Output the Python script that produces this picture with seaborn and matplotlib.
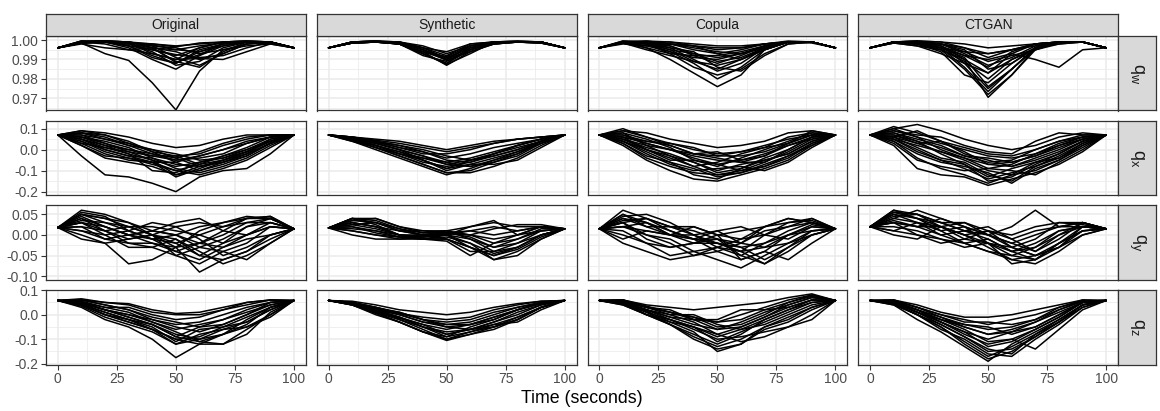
import numpy as np
import pandas as pd
import matplotlib
matplotlib.use("Agg")
import matplotlib.pyplot as plt
import seaborn as sns

# ---------------- data ----------------
methods = ["Original", "Synthetic", "Copula", "CTGAN"]
components = ["qw", "qx", "qy", "qz"]
component_labels = [r"$\mathrm{q}_\mathrm{w}$", r"$\mathrm{q}_\mathrm{x}$",
                    r"$\mathrm{q}_\mathrm{y}$", r"$\mathrm{q}_\mathrm{z}$"]
times = [0, 10, 20, 30, 40, 50, 60, 70, 80, 90, 100]

# q_w
original_qw = [
    [.996, .9985, .993, .9895, .978, .964, .984, .995, .997, .998, .996],
    [.996, .999, .9995, .997, .992, .988, .994, .998, .999, .999, .996],
    [.996, .9995, .999, .996, .990, .985, .992, .997, .999, .9985, .996],
    [.996, .999, .998, .995, .993, .990, .9905, .990, .994, .998, .996],
    [.996, .9985, .999, .998, .995, .992, .996, .999, .9995, .999, .996],
    [.996, .999, .9995, .999, .997, .996, .993, .995, .998, .999, .996],
    [.996, .9985, .9995, .998, .994, .987, .989, .996, .999, .999, .996],
    [.996, .999, .999, .999, .998, .997, .998, .999, .9995, .999, .996],
    [.996, .998, .996, .995, .996, .994, .990, .993, .998, .999, .996],
    [.996, .9995, .9995, .999, .996, .989, .986, .994, .999, .999, .996],
    [.996, .999, .9995, .9985, .9975, .995, .997, .9985, .999, .9985, .996],
    [.996, .9985, .999, .997, .991, .988, .995, .998, .999, .999, .996],
    [.996, .999, .9995, .999, .997, .991, .987, .993, .998, .999, .996],
    [.996, .9985, .999, .998, .996, .995, .994, .997, .999, .999, .996],
    [.996, .999, .9995, .9985, .993, .990, .996, .999, .9995, .999, .996],
    [.996, .999, .999, .997, .995, .9925, .991, .992, .996, .999, .996],
    [.996, .9995, .999, .9985, .998, .9965, .9985, .999, .999, .9985, .996],
    [.996, .9985, .9995, .999, .996, .9885, .9925, .998, .999, .999, .996],
]
synthetic_qw = [
    [.996, .9985, .999, .998, .993, .988, .996, .999, .999, .9985, .996],
    [.996, .999, .9995, .999, .995, .990, .997, .999, .999, .999, .996],
    [.996, .9985, .999, .998, .994, .987, .994, .998, .999, .999, .996],
    [.996, .999, .999, .999, .996, .992, .998, .999, .9995, .999, .996],
    [.996, .9985, .9995, .998, .992, .989, .995, .999, .999, .9985, .996],
    [.996, .999, .999, .9985, .995, .991, .996, .998, .999, .999, .996],
    [.996, .9985, .999, .998, .993, .9875, .993, .999, .999, .999, .996],
    [.996, .999, .9995, .999, .997, .993, .997, .999, .999, .9985, .996],
    [.996, .9985, .999, .998, .994, .990, .995, .998, .999, .999, .996],
    [.996, .999, .9995, .9985, .995, .9895, .994, .998, .999, .999, .996],
    [.996, .9985, .999, .998, .994, .9915, .997, .999, .999, .9985, .996],
    [.996, .999, .999, .999, .996, .9905, .996, .999, .9995, .999, .996],
    [.996, .999, .9995, .998, .993, .988, .995, .999, .999, .999, .996],
    [.996, .9985, .999, .9985, .996, .994, .998, .999, .999, .999, .996],
]
copula_qw = [
    [.996, .999, .996, .990, .983, .976, .982, .995, .999, .999, .996],
    [.996, .999, .998, .993, .986, .982, .985, .993, .998, .999, .996],
    [.996, .9985, .995, .992, .989, .987, .990, .995, .999, .999, .996],
    [.996, .999, .999, .996, .990, .984, .988, .996, .999, .999, .996],
    [.996, .999, .998, .995, .993, .991, .993, .997, .999, .999, .996],
    [.996, .999, .9995, .998, .995, .993, .995, .998, .999, .999, .996],
    [.996, .999, .999, .997, .992, .988, .992, .997, .999, .999, .996],
    [.996, .998, .997, .998, .997, .995, .996, .998, .9995, .999, .996],
    [.996, .999, .997, .994, .991, .990, .993, .996, .999, .999, .996],
    [.996, .9995, .999, .999, .998, .997, .997, .998, .999, .9985, .996],
    [.996, .999, .998, .996, .994, .986, .984, .992, .998, .999, .996],
    [.996, .999, .9995, .999, .997, .993, .990, .995, .999, .999, .996],
    [.996, .999, .998, .994, .988, .980, .986, .995, .999, .999, .996],
    [.996, .999, .9985, .997, .993, .989, .991, .996, .999, .999, .996],
    [.996, .9985, .996, .993, .992, .992, .994, .997, .999, .999, .996],
    [.996, .999, .999, .998, .996, .994, .993, .996, .999, .999, .996],
    [.996, .999, .9985, .995, .989, .985, .990, .996, .999, .999, .996],
    [.996, .9995, .999, .998, .997, .996, .996, .998, .999, .999, .996],
]
ctgan_qw = [
    [.996, .999, .998, .995, .985, .972, .982, .995, .999, .999, .996],
    [.996, .999, .999, .997, .988, .975, .985, .996, .999, .999, .996],
    [.996, .999, .998, .994, .982, .978, .988, .996, .999, .999, .996],
    [.996, .9985, .997, .995, .990, .983, .990, .995, .999, .999, .996],
    [.996, .999, .999, .998, .993, .987, .991, .997, .999, .999, .996],
    [.996, .999, .998, .996, .992, .990, .993, .990, .986, .995, .996],
    [.996, .999, .9995, .999, .996, .993, .995, .998, .999, .999, .996],
    [.996, .999, .999, .997, .990, .9705, .982, .996, .998, .999, .996],
    [.996, .999, .998, .996, .994, .993, .995, .997, .999, .999, .996],
    [.996, .999, .999, .998, .995, .985, .988, .996, .999, .999, .996],
    [.996, .9985, .997, .993, .988, .983, .993, .998, .999, .999, .996],
    [.996, .999, .9995, .999, .998, .996, .997, .998, .999, .999, .996],
    [.996, .999, .999, .996, .986, .9735, .985, .996, .999, .999, .996],
    [.996, .999, .998, .995, .989, .980, .990, .996, .999, .999, .996],
    [.996, .9985, .999, .997, .992, .986, .994, .998, .999, .999, .996],
    [.996, .999, .999, .998, .994, .989, .992, .995, .998, .999, .996],
    [.996, .999, .9985, .996, .991, .976, .985, .996, .999, .999, .996],
    [.996, .999, .9995, .998, .996, .991, .995, .998, .999, .999, .996],
]

# q_x
original_qx = [
    [.07, -.03, -.12, -.13, -.16, -.20, -.13, -.10, -.09, -.02, .07],
    [.07, .09, .08, .06, .03, .01, .02, .05, .07, .07, .07],
    [.07, .06, .03, .00, -.03, -.05, -.03, .00, .04, .06, .07],
    [.07, .02, -.04, -.06, -.08, -.12, -.10, -.07, -.03, .03, .07],
    [.07, .05, .02, -.02, -.05, -.08, -.06, -.03, .00, .04, .07],
    [.07, .08, .06, .02, -.02, -.04, -.01, .03, .06, .07, .07],
    [.07, .04, -.01, -.04, -.07, -.10, -.12, -.09, -.05, .01, .07],
    [.07, .07, .05, .03, .00, -.02, -.05, -.04, -.01, .04, .07],
    [.07, .03, -.02, -.05, -.06, -.13, -.09, -.05, -.01, .04, .07],
    [.07, .06, .04, .01, -.04, -.07, -.08, -.06, -.02, .05, .07],
    [.07, .08, .07, .04, -.01, -.06, -.03, .00, .03, .06, .07],
    [.07, .05, .00, -.03, -.04, -.09, -.11, -.08, -.04, .02, .07],
    [.07, .07, .03, -.01, -.03, -.03, -.07, -.05, -.02, .03, .07],
    [.07, .03, .01, -.02, -.10, -.11, -.06, -.04, .00, .05, .07],
    [.07, .09, .07, .03, -.01, -.03, -.02, .02, .05, .07, .07],
    [.07, .04, .00, -.03, -.06, -.06, -.10, -.06, -.02, .03, .07],
    [.07, .06, .02, .00, -.02, -.05, -.04, -.02, .03, .06, .07],
    [.07, .02, -.03, -.04, -.06, -.10, -.07, -.03, .01, .06, .07],
    [.07, .08, .05, .02, .00, -.04, -.08, -.05, -.01, .04, .07],
    [.07, .05, .01, -.01, -.05, -.12, -.08, -.06, -.03, .03, .07],
]
synthetic_qx = [
    [.07, .05, .01, -.03, -.07, -.11, -.11, -.08, -.04, .02, .07],
    [.07, .06, .05, .04, .02, .00, .02, .04, .05, .06, .07],
    [.07, .05, .03, .00, -.03, -.06, -.04, -.01, .02, .05, .07],
    [.07, .04, .00, -.04, -.08, -.12, -.09, -.05, -.02, .03, .07],
    [.07, .055, .04, .02, -.01, -.04, -.02, .01, .03, .05, .07],
    [.07, .05, .02, -.01, -.05, -.09, -.07, -.07, -.05, .01, .07],
    [.07, .06, .04, .02, .00, -.03, -.05, -.03, .00, .04, .07],
    [.07, .05, .02, -.02, -.06, -.08, -.06, -.03, .00, .04, .07],
    [.07, .045, .01, -.02, -.04, -.06, -.08, -.05, -.01, .03, .07],
    [.07, .06, .04, .01, -.02, -.02, .00, .03, .05, .06, .07],
    [.07, .05, .03, .00, -.05, -.10, -.07, -.04, -.01, .04, .07],
    [.07, .055, .035, .01, -.01, -.05, -.06, -.02, .02, .05, .07],
    [.07, .05, .02, -.01, -.04, -.07, -.05, -.02, .01, .04, .07],
    [.07, .04, .01, -.03, -.07, -.11, -.10, -.06, -.03, .03, .07],
    [.07, .06, .045, .03, .01, -.01, .01, .03, .05, .06, .07],
    [.07, .05, .02, -.02, -.05, -.09, -.05, -.02, .02, .05, .07],
    [.07, .055, .03, .00, -.03, -.07, -.08, -.06, -.02, .04, .07],
]
copula_qx = [
    [.07, .09, .08, .05, .03, .01, .02, .04, .08, .09, .07],
    [.07, .05, .00, -.04, -.08, -.12, -.11, -.08, -.04, .03, .07],
    [.07, .06, .03, .00, -.03, -.05, -.06, -.03, .02, .06, .07],
    [.07, .02, -.05, -.10, -.14, -.15, -.12, -.09, -.05, .02, .07],
    [.07, .08, .05, .01, -.05, -.08, -.04, .00, .04, .08, .07],
    [.07, .04, -.02, -.07, -.10, -.09, -.08, -.10, -.06, .01, .07],
    [.07, .07, .04, .03, .01, -.03, -.01, .02, .05, .07, .07],
    [.07, .03, -.03, -.06, -.12, -.14, -.09, -.05, -.02, .04, .07],
    [.07, .10, .06, .02, -.02, -.01, -.05, -.03, .03, .09, .07],
    [.07, .05, .01, -.02, -.06, -.10, -.07, -.05, -.02, .04, .07],
    [.07, .06, .04, .02, -.02, -.04, -.06, -.06, .00, .06, .07],
    [.07, .04, .00, -.05, -.05, -.07, -.10, -.06, -.01, .05, .07],
    [.07, .08, .02, -.03, -.08, -.06, -.02, .01, .03, .07, .07],
    [.07, .09, .06, .03, .00, -.02, -.01, .01, .06, .08, .07],
    [.07, .04, -.01, -.06, -.09, -.13, -.11, -.07, -.03, .03, .07],
    [.07, .07, .03, .00, -.04, -.07, -.05, -.02, .02, .05, .07],
    [.07, .06, .00, -.03, -.06, -.11, -.09, -.04, .00, .06, .07],
    [.07, .05, .02, .00, -.02, -.03, -.03, -.01, .03, .07, .07],
    [.07, .03, -.04, -.08, -.11, -.12, -.10, -.08, -.03, .02, .07],
]
ctgan_qx = [
    [.07, .10, .12, .09, .05, .02, .00, .02, .06, .08, .07],
    [.07, .02, -.09, -.12, -.13, -.17, -.14, -.11, -.07, -.01, .07],
    [.07, .08, .05, .02, -.03, -.06, -.05, .00, .04, .06, .07],
    [.07, .05, .00, -.05, -.09, -.14, -.11, -.08, -.03, .03, .07],
    [.07, .06, .09, .04, -.02, -.05, -.08, -.04, .00, .05, .07],
    [.07, .04, -.02, -.06, -.08, -.11, -.16, -.09, -.05, .02, .07],
    [.07, .09, .07, .06, .02, -.01, -.02, .04, .08, .07, .07],
    [.07, .07, .03, -.01, -.05, -.10, -.12, -.06, -.02, .04, .07],
    [.07, .03, -.05, -.08, -.10, -.09, -.10, -.12, -.06, .00, .07],
    [.07, .10, .06, .03, .00, -.03, -.04, -.02, .02, .06, .07],
    [.07, .05, .02, -.01, -.04, -.07, -.08, -.05, -.01, .04, .07],
    [.07, .08, .04, -.02, -.07, -.15, -.13, -.07, -.02, .04, .07],
    [.07, .06, .03, .04, -.01, -.07, -.06, -.03, .02, .05, .07],
    [.07, .11, .08, .04, .01, -.02, -.03, .00, .04, .07, .07],
    [.07, .04, -.04, -.09, -.12, -.16, -.12, -.10, -.05, .01, .07],
    [.07, .09, .06, .00, -.04, -.09, -.07, -.02, .03, .06, .07],
    [.07, .06, .01, -.04, -.06, -.12, -.15, -.08, -.04, .03, .07],
    [.07, .07, .04, .01, -.03, -.04, -.06, -.03, .01, .05, .07],
    [.07, .05, -.01, -.05, -.07, -.13, -.09, -.06, -.04, .02, .07],
]

# q_y
original_qy = [
    [.018, .05, .04, .02, .00, -.02, .00, .02, .03, .03, .015],
    [.018, .00, -.02, -.07, -.06, -.03, -.02, -.03, -.01, .00, .015],
    [.018, .06, .05, .03, .01, .00, -.03, -.01, .02, .04, .015],
    [.018, .03, .02, .00, -.02, -.03, -.09, -.06, -.04, -.01, .015],
    [.018, .04, .01, -.01, .00, .02, .03, .02, .04, .04, .015],
    [.018, .02, -.01, -.02, -.03, -.05, -.07, -.04, -.02, .02, .015],
    [.018, .05, .03, .02, .02, .01, .00, -.02, .00, .03, .015],
    [.018, .01, .00, .01, .03, .02, -.01, -.05, -.03, .00, .015],
    [.018, .035, .03, .01, -.01, -.04, -.02, .01, .04, .045, .015],
    [.018, -.01, -.02, -.01, .00, -.01, -.04, -.07, -.05, -.02, .015],
    [.018, .045, .02, .00, .01, .03, .04, .01, .00, .02, .015],
    [.018, .03, .00, -.03, -.03, -.01, -.05, -.02, .02, .03, .015],
    [.018, .02, .01, .02, .00, -.05, -.03, -.04, -.06, -.02, .015],
    [.018, .055, .045, .01, -.01, .00, .02, .03, .045, .04, .015],
    [.018, .03, .01, -.02, -.02, -.04, -.06, -.03, .00, .02, .015],
    [.018, .04, .02, .00, .01, .00, -.02, .00, .03, .04, .015],
    [.018, .01, -.01, .00, -.01, -.02, -.05, -.06, -.04, .00, .015],
    [.018, .05, .04, .03, .00, -.03, .01, .03, .04, .045, .015],
]
synthetic_qy = [
    [.017, .04, .04, .02, .01, .005, .00, -.02, -.01, .01, .015],
    [.017, .03, .02, .00, -.005, .00, -.03, -.05, -.03, .00, .015],
    [.017, .00, -.01, -.01, -.01, -.005, -.02, -.06, -.04, -.01, .015],
    [.017, .04, .03, .01, .01, .01, .02, .03, .02, .02, .015],
    [.017, .02, .01, -.005, -.01, -.01, -.04, -.04, -.02, .01, .015],
    [.017, .035, .04, .02, .005, .005, .01, .00, .01, .02, .015],
    [.017, .01, .00, -.01, -.005, .00, -.01, -.03, -.02, .00, .015],
    [.017, .025, .03, .015, .00, -.01, -.03, -.06, -.05, -.01, .015],
    [.017, .03, .02, .00, .00, .005, .00, .015, .025, .025, .015],
    [.017, .015, .01, .00, -.01, -.015, -.05, -.02, .00, .02, .015],
    [.017, .04, .025, .00, -.01, .00, .02, .035, .00, .01, .015],
    [.017, .02, .005, -.005, .00, .01, -.01, -.04, -.03, .00, .015],
    [.017, .035, .03, .01, .00, .00, -.02, -.045, -.03, .00, .015],
    [.017, .025, .015, .00, -.005, .005, -.005, -.03, -.01, .015, .015],
    [.017, .04, .035, .015, .005, .01, .00, -.01, .00, .02, .015],
    [.017, .01, .00, -.005, -.01, -.01, -.03, -.05, -.035, -.005, .015],
    [.017, .03, .02, .01, .00, .00, .01, .02, .01, .02, .015],
]
copula_qy = [
    [.015, .05, .03, .00, .00, .01, -.02, .02, .04, .03, .015],
    [.015, -.02, -.04, -.06, -.05, -.03, -.04, -.03, .00, .01, .015],
    [.015, .06, .04, .02, .02, .00, -.01, .00, .02, .04, .015],
    [.015, .02, .00, -.01, -.04, -.06, -.08, -.05, -.02, .00, .015],
    [.015, .03, .04, .01, -.01, -.02, -.03, -.06, -.03, .01, .015],
    [.015, .00, -.02, -.05, -.04, -.03, -.05, -.02, .01, .03, .015],
    [.015, .04, .02, .02, .00, -.03, -.01, .02, .04, .03, .015],
    [.015, .02, .01, .00, .02, .00, -.06, -.04, -.06, -.02, .015],
    [.015, .03, -.01, -.03, -.02, -.02, -.04, .00, .03, .035, .015],
    [.015, .045, .05, .03, .00, -.02, -.04, -.07, -.03, .00, .015],
    [.015, -.01, .01, .00, -.01, .01, .02, .00, -.01, .02, .015],
    [.015, .03, .00, -.02, -.05, -.04, -.02, -.03, -.02, .01, .015],
    [.015, .04, .03, .01, -.01, -.04, -.06, -.04, .00, .02, .015],
    [.015, .02, .03, .00, -.02, .00, .01, .02, .03, .04, .015],
    [.015, .05, .02, .00, -.01, -.01, -.05, -.07, -.04, .00, .015],
    [.015, .01, -.02, -.03, -.02, -.01, -.02, .01, .02, .03, .015],
    [.015, .035, .04, .02, .01, -.01, -.03, -.02, .00, .025, .015],
]
ctgan_qy = [
    [.02, .06, .05, .03, .01, .00, .02, .06, .02, .02, .015],
    [.02, .04, .06, .04, .02, .00, -.03, -.05, -.03, .00, .015],
    [.02, .00, -.01, .02, .00, -.03, -.06, -.05, -.03, .02, .015],
    [.02, .05, .03, .00, .01, .02, -.01, -.04, -.01, .03, .015],
    [.02, .03, .02, .02, -.01, -.02, -.07, -.06, -.02, .01, .015],
    [.02, .055, .04, .01, .02, .00, -.02, .00, .02, .03, .015],
    [.02, .02, .01, -.01, -.03, -.02, -.05, -.03, .00, .02, .015],
    [.02, .045, .05, .02, .00, .01, .00, .02, .03, .025, .015],
    [.02, .01, .03, .01, -.02, -.04, -.06, -.07, -.04, .00, .015],
    [.02, .035, .02, .04, .02, -.02, -.04, -.02, .01, .02, .015],
    [.02, .03, .00, -.02, -.01, .01, -.03, -.05, -.02, .01, .015],
    [.02, .05, .04, .03, .03, .01, -.01, .01, .02, .03, .015],
    [.02, .055, .05, .03, .01, -.01, -.04, -.06, -.02, .02, .015],
    [.02, .04, .03, .02, .00, -.02, -.03, -.01, .03, .03, .015],
    [.02, .01, .00, -.01, -.02, -.04, -.05, -.06, -.03, .01, .015],
    [.02, .06, .04, .02, .03, .00, -.02, -.04, .00, .03, .015],
    [.02, .03, .02, .00, -.02, -.01, -.04, -.03, .01, .02, .015],
]

# q_z
original_qz = [
    [.058, .03, -.02, -.05, -.10, -.175, -.12, -.08, -.05, -.01, .058],
    [.058, .06, .05, .045, .02, .005, .01, .03, .05, .06, .058],
    [.058, .04, .00, -.03, -.06, -.10, -.12, -.12, -.06, .00, .058],
    [.058, .05, .02, .00, -.03, -.06, -.04, -.02, .01, .04, .058],
    [.058, .055, .03, .03, .00, -.02, -.01, .02, .04, .06, .058],
    [.058, .04, .01, -.02, -.05, -.11, -.06, -.05, -.03, .02, .058],
    [.058, .045, .02, -.01, -.04, -.08, -.10, -.08, -.02, .03, .058],
    [.058, .06, .04, .02, -.02, -.04, -.03, .00, .03, .05, .058],
    [.058, .035, -.01, -.04, -.07, -.12, -.08, -.06, -.05, .00, .058],
    [.058, .05, .02, .00, -.02, -.05, -.07, -.04, .00, .04, .058],
    [.058, .04, .00, -.02, -.04, -.09, -.05, -.02, .02, .05, .058],
    [.058, .05, .03, .01, -.03, -.07, -.11, -.12, -.08, .01, .058],
    [.058, .065, .05, .04, .01, .00, .00, .02, .05, .06, .058],
    [.058, .045, .01, -.02, -.06, -.10, -.09, -.05, -.01, .03, .058],
    [.058, .05, .02, -.01, -.04, -.09, -.11, -.08, -.04, .03, .058],
    [.058, .06, .04, .02, -.01, -.03, -.05, -.04, .00, .05, .058],
    [.058, .04, .00, -.03, -.06, -.12, -.10, -.06, -.03, .02, .058],
]
synthetic_qz = [
    [.058, .04, .00, -.03, -.07, -.10, -.07, -.04, -.01, .03, .058],
    [.058, .055, .04, .02, .01, .00, .01, .03, .045, .055, .058],
    [.058, .045, .02, -.01, -.04, -.06, -.04, -.01, .02, .045, .058],
    [.058, .04, .01, -.02, -.06, -.10, -.08, -.06, -.02, .03, .058],
    [.058, .05, .03, .01, -.02, -.03, -.02, .01, .03, .05, .058],
    [.058, .045, .01, -.01, -.05, -.08, -.06, -.04, -.03, .02, .058],
    [.058, .05, .025, .00, -.03, -.05, -.06, -.03, .01, .04, .058],
    [.058, .04, .01, -.03, -.07, -.09, -.05, -.02, .02, .05, .058],
    [.058, .05, .03, .005, -.01, -.02, -.01, .02, .04, .055, .058],
    [.058, .045, .015, -.02, -.05, -.07, -.06, -.05, -.01, .03, .058],
    [.058, .05, .02, .00, -.03, -.04, -.03, .00, .03, .05, .058],
    [.058, .045, .02, -.01, -.05, -.09, -.07, -.05, -.02, .03, .058],
    [.058, .05, .025, .01, -.02, -.04, -.04, -.01, .02, .045, .058],
    [.058, .04, .005, -.03, -.07, -.105, -.08, -.05, -.02, .03, .058],
    [.058, .05, .03, .005, -.02, -.05, -.04, -.02, .02, .05, .058],
    [.058, .045, .015, -.015, -.04, -.08, -.06, -.03, .00, .04, .058],
]
copula_qz = [
    [.058, .05, .00, -.04, -.10, -.14, -.12, -.05, -.01, .03, .058],
    [.058, .06, .04, .03, .02, .03, .04, .05, .07, .085, .058],
    [.058, .05, .02, -.01, -.04, -.06, -.03, .01, .04, .07, .058],
    [.058, .04, .00, -.02, -.06, -.10, -.09, -.07, -.05, -.02, .058],
    [.058, .055, .02, -.01, -.02, -.03, .00, .03, .06, .08, .058],
    [.058, .045, .01, -.04, -.08, -.12, -.08, -.02, .02, .05, .058],
    [.058, .06, .03, .00, .00, -.04, -.06, -.02, .02, .06, .058],
    [.058, .05, .02, .00, -.03, -.08, -.11, -.09, -.05, .00, .058],
    [.058, .05, .03, .01, -.01, -.05, -.04, .00, .05, .075, .058],
    [.058, .04, .00, -.03, -.05, -.09, -.06, -.04, .00, .04, .058],
    [.058, .06, .03, .02, -.02, -.02, .02, .02, .03, .06, .058],
    [.058, .045, .015, -.03, -.07, -.15, -.12, -.06, -.03, .02, .058],
    [.058, .05, .01, -.02, -.05, -.08, -.05, -.01, .03, .06, .058],
    [.058, .045, .00, -.04, -.09, -.13, -.10, -.05, -.02, .03, .058],
    [.058, .055, .03, .01, -.01, -.03, -.02, .02, .05, .08, .058],
    [.058, .05, .02, -.02, -.05, -.11, -.07, -.03, .01, .05, .058],
    [.058, .06, .035, .01, -.02, -.06, -.05, -.01, .04, .07, .058],
]
ctgan_qz = [
    [.058, .04, -.02, -.07, -.13, -.19, -.12, -.07, -.02, .04, .058],
    [.058, .06, .04, .01, -.01, -.01, .00, .02, .04, .06, .058],
    [.058, .05, .01, -.03, -.08, -.12, -.10, -.06, -.01, .05, .058],
    [.058, .045, .00, -.05, -.11, -.17, -.13, -.08, -.03, .03, .058],
    [.058, .055, .02, -.01, -.04, -.06, -.05, -.02, .02, .055, .058],
    [.058, .05, .02, -.02, -.06, -.11, -.10, -.14, -.06, .02, .058],
    [.058, .06, .03, .00, -.03, -.03, -.04, -.02, .03, .06, .058],
    [.058, .045, .00, -.04, -.09, -.14, -.16, -.08, -.02, .04, .058],
    [.058, .05, .01, -.02, -.05, -.08, -.07, -.05, .00, .05, .058],
    [.058, .04, .00, -.06, -.10, -.16, -.17, -.10, -.04, .03, .058],
    [.058, .055, .03, .00, -.02, -.04, -.02, .00, .03, .055, .058],
    [.058, .05, .02, -.03, -.07, -.10, -.07, -.03, .01, .05, .058],
    [.058, .05, .01, -.04, -.09, -.15, -.14, -.09, -.03, .04, .058],
    [.058, .06, .03, -.01, -.05, -.08, -.06, -.03, .02, .055, .058],
    [.058, .045, .00, -.05, -.12, -.18, -.15, -.09, -.03, .04, .058],
    [.058, .055, .02, -.02, -.04, -.05, -.08, -.05, .00, .05, .058],
    [.058, .05, .01, -.03, -.07, -.13, -.11, -.06, -.01, .05, .058],
]

x_ticks = [0, 25, 50, 75, 100]
y_ticks = {
    "qw": [0.97, 0.98, 0.99, 1.00],
    "qx": [-0.2, -0.1, 0.0, 0.1],
    "qy": [-0.10, -0.05, 0.00, 0.05],
    "qz": [-0.2, -0.1, 0.0, 0.1],
}
y_tick_labels = {
    "qw": ["0.97", "0.98", "0.99", "1.00"],
    "qx": ["-0.2", "-0.1", "0.0", "0.1"],
    "qy": ["-0.10", "-0.05", "0.00", "0.05"],
    "qz": ["-0.2", "-0.1", "0.0", "0.1"],
}

panels = {
    ("Original", "qw"): original_qw, ("Synthetic", "qw"): synthetic_qw,
    ("Copula", "qw"): copula_qw, ("CTGAN", "qw"): ctgan_qw,
    ("Original", "qx"): original_qx, ("Synthetic", "qx"): synthetic_qx,
    ("Copula", "qx"): copula_qx, ("CTGAN", "qx"): ctgan_qx,
    ("Original", "qy"): original_qy, ("Synthetic", "qy"): synthetic_qy,
    ("Copula", "qy"): copula_qy, ("CTGAN", "qy"): ctgan_qy,
    ("Original", "qz"): original_qz, ("Synthetic", "qz"): synthetic_qz,
    ("Copula", "qz"): copula_qz, ("CTGAN", "qz"): ctgan_qz,
}

rows = []
for (m, c), curves in panels.items():
    for k, curve in enumerate(curves):
        for t, v in zip(times, curve):
            rows.append({"method": m, "component": c, "curve": k, "time": t, "value": v})
df = pd.DataFrame(rows)

# ---------------- styling / layout ----------------
sns.set_theme(style="white")
plt.rcParams["font.family"] = ["Liberation Sans", "DejaVu Sans"]
plt.rcParams["mathtext.fontset"] = "custom"
plt.rcParams["mathtext.rm"] = "Liberation Sans"

W, H = 1160, 411
fig = plt.figure(figsize=(W / 100, H / 100), dpi=100)
fig.patch.set_facecolor("white")

panel_w = 259.75
gap = 11
col_left = [46 + j * (panel_w + gap) for j in range(4)]
row_top = [36, 120.7, 205.4, 290.1]
panel_h = 74.5
strip_h = 22
strip_w = 38
border = "#333333"
grid_c = "#EBEBEB"

ylims = {
    "qw": (0.9637, 1.0021),
    "qx": (-0.217, 0.138),
    "qy": (-0.109, 0.0717),
    "qz": (-0.2035, 0.1004),
}

def fig_rect(x, y, w, h):
    return [x / W, 1 - (y + h) / H, w / W, h / H]

for i, comp in enumerate(components):
    for j, m in enumerate(methods):
        ax = fig.add_axes(fig_rect(col_left[j], row_top[i], panel_w, panel_h))
        sub = df[(df.method == m) & (df.component == comp)]
        sns.lineplot(data=sub, x="time", y="value", units="curve", estimator=None,
                     color="black", lw=1.1, ax=ax, legend=False, sort=False)
        ax.set_xlim(-5, 105)
        yt = y_ticks[comp]
        ax.set_xticks(x_ticks)
        ax.set_xticks([12.5, 37.5, 62.5, 87.5], minor=True)
        ax.set_yticks(yt)
        step = yt[1] - yt[0]
        ax.set_yticks([v + step / 2 for v in [yt[0] - step] + yt], minor=True)
        ax.set_ylim(*ylims[comp])
        ax.grid(True, which="major", color=grid_c, lw=1.1)
        ax.grid(True, which="minor", color=grid_c, lw=0.55)
        ax.set_axisbelow(True)
        for s in ax.spines.values():
            s.set_color(border)
            s.set_linewidth(0.9)
        ax.set_xlabel("")
        ax.set_ylabel("")
        ax.tick_params(which="minor", length=0)
        if j == 0:
            ax.set_yticklabels(y_tick_labels[comp])
            ax.tick_params(axis="y", which="major", length=3.5, width=0.8, color=border,
                           labelsize=10, labelcolor="#4D4D4D", pad=2, left=True)
        else:
            ax.tick_params(axis="y", which="major", length=0, labelleft=False)
        if i == 3:
            ax.tick_params(axis="x", which="major", length=3.5, width=0.8, color=border,
                           labelsize=10, labelcolor="#4D4D4D", pad=2, bottom=True)
        else:
            ax.tick_params(axis="x", which="major", length=0, labelbottom=False)

        if i == 0:
            sax = fig.add_axes(fig_rect(col_left[j], row_top[0] - strip_h, panel_w, strip_h))
            sax.set_facecolor("#D9D9D9")
            sax.set_xticks([]); sax.set_yticks([])
            for s in sax.spines.values():
                s.set_color(border); s.set_linewidth(0.9)
            sax.text(0.5, 0.5, m, ha="center", va="center", fontsize=10,
                     color="#1A1A1A", transform=sax.transAxes)
        if j == 3:
            rax = fig.add_axes(fig_rect(col_left[3] + panel_w, row_top[i], strip_w, panel_h))
            rax.set_facecolor("#D9D9D9")
            rax.set_xticks([]); rax.set_yticks([])
            for s in rax.spines.values():
                s.set_color(border); s.set_linewidth(0.9)
            rax.text(0.5, 0.5, component_labels[i], ha="center", va="center",
                     fontsize=13, color="#1A1A1A", rotation=-90,
                     transform=rax.transAxes)

fig.text((col_left[0] + col_left[3] + panel_w) / 2 / W, 1 - 398 / H, "Time (seconds)",
         ha="center", va="center", fontsize=12.8, color="black")

fig.savefig("out.png", dpi=100, facecolor="white")
